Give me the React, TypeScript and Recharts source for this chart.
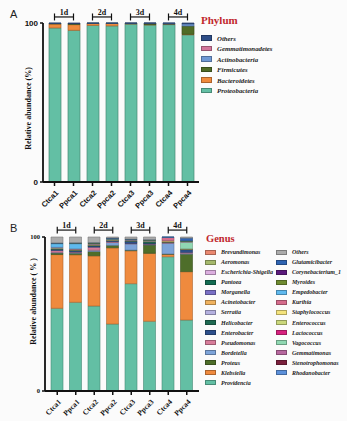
import { Bar, BarChart, ReferenceLine, XAxis, YAxis } from 'recharts'

const SAMPLES = ['Ctca1', 'Ppca1', 'Ctca2', 'Ppca2', 'Ctca3', 'Ppca3', 'Ctca4', 'Ppca4']

const DAY_GROUPS = [
  { label: '1d', from: 'Ctca1', to: 'Ppca1' },
  { label: '2d', from: 'Ctca2', to: 'Ppca2' },
  { label: '3d', from: 'Ctca3', to: 'Ppca3' },
  { label: '4d', from: 'Ctca4', to: 'Ppca4' },
]

// Phylum (%), one value per sample
const PROTEOBACTERIA = [96.9, 95.4, 98.5, 98.2, 99.4, 98.8, 99.0, 92.6]
const BACTEROIDETES = [2.5, 3.6, 1.2, 1.5, 0.2, 0.2, 0.3, 0.3]
const FIRMICUTES = [0.3, 0.6, 0.1, 0.1, 0.2, 0.8, 0.1, 5.2]
const ACTINOBACTERIA = [0.1, 0.1, 0.1, 0.1, 0.1, 0.1, 0.5, 1.4]
const GEMMATIMONADETES = [0, 0, 0, 0, 0, 0, 0, 0]
const PHYLUM_OTHERS = [0.2, 0.3, 0.1, 0.1, 0.1, 0.1, 0.1, 0.5]

// Genus (%), one value per sample
const PROVIDENCIA = [53.7, 57.6, 55.2, 43.5, 69.7, 45.3, 87.2, 46.1]
const KLEBSIELLA = [34.9, 30.9, 32.6, 49.5, 21.4, 44.1, 1.6, 31.4]
const PROTEUS = [1.0, 1.0, 2.8, 1.6, 0.4, 5.4, 0.2, 11.4]
const BORDETELLA = [0.4, 0.4, 0.8, 1.8, 4.0, 0.3, 7.0, 0.5]
const PSEUDOMONAS = [1.2, 0.4, 2.0, 0.6, 0.3, 0.3, 0.3, 0.6]
const ENTEROBACTER = [0.8, 0.8, 0.8, 0.6, 1.4, 0.6, 0.3, 1.8]
const HELICOBACTER = [0.4, 0.4, 0.5, 0.3, 0.3, 1.0, 0.1, 0.3]
const ACINETOBACTER = [0.3, 0.3, 0.3, 0.2, 0.2, 0.2, 0.8, 0.2]
const VAGOCOCCUS = [0.2, 0.2, 0.3, 0.2, 0.2, 0.2, 0.1, 4.4]
const KURTHIA = [0.4, 0.3, 0.3, 0.2, 0.2, 0.2, 2.2, 0.3]
const EMPEDOBACTER = [2.4, 3.4, 0.2, 0.2, 0.2, 0.2, 0.1, 0.2]
const MYROIDES = [0.2, 0.3, 0.3, 0.3, 0.2, 0.3, 0.0, 0.3]
const GLUTAMICIBACTER = [0.3, 0.3, 0.3, 0.4, 0.2, 0.2, 0.1, 1.8]
const GENUS_OTHERS = [3.8, 3.7, 3.6, 0.6, 1.3, 1.7, 0.0, 0.7]

const PHYLUM_LEGEND = ['Others', 'Gemmatimonadetes', 'Actinobacteria', 'Firmicutes', 'Bacteroidetes', 'Proteobacteria']
const GENUS_LEGEND_LEFT = [
  'Brevundimonas', 'Aeromonas', 'Escherichia-Shigella', 'Pantoea', 'Morganella', 'Acinetobacter', 'Serratia',
  'Helicobacter', 'Enterobacter', 'Pseudomonas', 'Bordetella', 'Proteus', 'Klebsiella', 'Providencia',
]
const GENUS_LEGEND_RIGHT = [
  'Others', 'Glutamicibacter', 'Corynebacterium_1', 'Myroides', 'Empedobacter', 'Kurthia', 'Staphylococcus',
  'Enterococcus', 'Lactococcus', 'Vagococcus', 'Gemmatimonas', 'Stenotrophomonas', 'Rhodanobacter',
]

const PHYLUM_COLOR: Record<string, string> = {
  Others: '#2e4d87',
  Gemmatimonadetes: '#d2759a',
  Actinobacteria: '#6f98d4',
  Firmicutes: '#4f6b26',
  Bacteroidetes: '#ef8a3c',
  Proteobacteria: '#63bfa4',
}

const GENUS_COLOR: Record<string, string> = {
  Brevundimonas: '#ea8870',
  Aeromonas: '#a5b96c',
  'Escherichia-Shigella': '#dbaedf',
  Pantoea: '#146c52',
  Morganella: '#7a70c6',
  Acinetobacter: '#f0b25e',
  Serratia: '#b4b0df',
  Helicobacter: '#1f6a52',
  Enterobacter: '#2e508c',
  Pseudomonas: '#d77c9a',
  Bordetella: '#7ea4d9',
  Proteus: '#4e6e2a',
  Klebsiella: '#ef8a3e',
  Providencia: '#63bfa4',
  Others: '#ababab',
  Glutamicibacter: '#2f64b2',
  Corynebacterium_1: '#5b1a7c',
  Myroides: '#6f8b31',
  Empedobacter: '#5fb9ee',
  Kurthia: '#d66c8c',
  Staphylococcus: '#f4e37c',
  Enterococcus: '#cad77b',
  Lactococcus: '#d8217f',
  Vagococcus: '#90d8b2',
  Gemmatimonas: '#b7689f',
  Stenotrophomonas: '#7b203d',
  Rhodanobacter: '#5c90da',
}

// bottom of stack first
const PHYLUM_SERIES: [string, number[]][] = [
  ['Proteobacteria', PROTEOBACTERIA],
  ['Bacteroidetes', BACTEROIDETES],
  ['Firmicutes', FIRMICUTES],
  ['Actinobacteria', ACTINOBACTERIA],
  ['Gemmatimonadetes', GEMMATIMONADETES],
  ['Others', PHYLUM_OTHERS],
]

const GENUS_SERIES: [string, number[]][] = [
  ['Providencia', PROVIDENCIA],
  ['Klebsiella', KLEBSIELLA],
  ['Proteus', PROTEUS],
  ['Bordetella', BORDETELLA],
  ['Pseudomonas', PSEUDOMONAS],
  ['Enterobacter', ENTEROBACTER],
  ['Helicobacter', HELICOBACTER],
  ['Acinetobacter', ACINETOBACTER],
  ['Vagococcus', VAGOCOCCUS],
  ['Kurthia', KURTHIA],
  ['Empedobacter', EMPEDOBACTER],
  ['Myroides', MYROIDES],
  ['Glutamicibacter', GLUTAMICIBACTER],
  ['Others', GENUS_OTHERS],
]

const phylumData = SAMPLES.map((s, i) => {
  const row: Record<string, string | number> = { sample: s }
  for (const [name, vals] of PHYLUM_SERIES) row[name] = vals[i]
  return row
})

const genusData = SAMPLES.map((s, i) => {
  const row: Record<string, string | number> = { sample: s }
  for (const [name, vals] of GENUS_SERIES) row[name] = vals[i]
  return row
})

const SERIF = '"Liberation Serif", "Times New Roman", serif'
const SANS = '"Liberation Sans", Arial, sans-serif'
const TITLE_RED = '#c1272d'

function darken(hex: string, f = 0.72) {
  const n = parseInt(hex.slice(1), 16)
  const r = Math.round(((n >> 16) & 255) * f)
  const g = Math.round(((n >> 8) & 255) * f)
  const b = Math.round((n & 255) * f)
  return `rgb(${r},${g},${b})`
}

function makeTick(font: string, size: number) {
  // eslint-disable-next-line @typescript-eslint/no-explicit-any
  return (props: any) => {
    const { x, y, payload } = props
    return (
      <g transform={`translate(${x + 3},${y + 4})`}>
        <text
          transform="rotate(-45)"
          textAnchor="end"
          fontFamily={font}
          fontWeight="bold"
          fontSize={size}
          fill="#111"
          dy={2}
        >
          {payload.value}
        </text>
      </g>
    )
  }
}

function Brackets(top: number) {
  return DAY_GROUPS.flatMap((g) => [
    <ReferenceLine
      key={g.label + 'h'}
      segment={[{ x: g.from, y: top }, { x: g.to, y: top }]}
      stroke="#111"
      strokeWidth={1.2}
      ifOverflow="visible"
      label={{ value: g.label, position: 'top', offset: 2, fontSize: 8, fontWeight: 'bold', fontFamily: SERIF, fill: '#111' }}
    />,
    <ReferenceLine
      key={g.label + 'a'}
      segment={[{ x: g.from, y: top - 2.2 }, { x: g.from, y: top + 2.2 }]}
      stroke="#111"
      strokeWidth={1.2}
      ifOverflow="visible"
    />,
    <ReferenceLine
      key={g.label + 'b'}
      segment={[{ x: g.to, y: top - 2.2 }, { x: g.to, y: top + 2.2 }]}
      stroke="#111"
      strokeWidth={1.2}
      ifOverflow="visible"
    />,
  ])
}

function LegendItem({ name, color, x, y, size }: { name: string; color: string; x: number; y: number; size: number }) {
  return (
    <div style={{ position: 'absolute', left: x, top: y - 6, height: 12, display: 'flex', alignItems: 'center', whiteSpace: 'nowrap' }}>
      <div style={{ width: 9, height: 3.5, background: color, border: `1px solid ${darken(color)}`, marginRight: 5 }} />
      <span style={{ fontFamily: SERIF, fontStyle: 'italic', fontWeight: 'bold', fontSize: size, color: '#222' }}>{name}</span>
    </div>
  )
}

export default function App() {
  return (
    <div style={{ position: 'absolute', left: 0, top: 0, width: 347, height: 421, background: '#fbfbfb', overflow: 'hidden' }}>
      <div style={{ position: 'absolute', left: 10, top: 8, fontFamily: SANS, fontSize: 11, color: '#222' }}>A</div>
      <div style={{ position: 'absolute', left: 10, top: 222, fontFamily: SANS, fontSize: 11, color: '#222' }}>B</div>

      {/* Phylum */}
      <div style={{ position: 'absolute', left: 0, top: 0 }}>
        <BarChart width={205} height={218} data={phylumData} margin={{ top: 23, right: 6, bottom: 0, left: 23 }} barSize={12}>
          <XAxis
            dataKey="sample"
            height={36}
            interval={0}
            padding={{ left: 2, right: 2 }}
            axisLine={{ stroke: '#111', strokeWidth: 1.8 }}
            tickLine={{ stroke: '#111', strokeWidth: 1.5 }}
            tickSize={4}
            tick={makeTick(SANS, 7.5)}
          />
          <YAxis
            width={20}
            domain={[0, 100]}
            ticks={[0, 100]}
            axisLine={{ stroke: '#111', strokeWidth: 1.8 }}
            tickLine={{ stroke: '#111', strokeWidth: 1.5 }}
            tickSize={3}
            tick={{ fontSize: 8, fontWeight: 'bold', fontFamily: SANS, fill: '#111' }}
          />
          {PHYLUM_SERIES.map(([name]) => (
            <Bar
              key={name}
              dataKey={name}
              stackId="p"
              fill={PHYLUM_COLOR[name]}
              stroke={darken(PHYLUM_COLOR[name])}
              strokeWidth={0.7}
              isAnimationActive={false}
            />
          ))}
          {Brackets(103.8)}
        </BarChart>
      </div>
      <div
        style={{
          position: 'absolute', left: -32, top: 104, width: 120, textAlign: 'center', transform: 'rotate(-90deg)',
          fontFamily: SERIF, fontWeight: 'bold', fontSize: 8, color: '#111', whiteSpace: 'nowrap',
        }}
      >
        Relative abundance (%)
      </div>
      <div style={{ position: 'absolute', left: 201, top: 14, fontFamily: SERIF, fontWeight: 'bold', fontSize: 11, color: TITLE_RED }}>
        Phylum
      </div>
      {PHYLUM_LEGEND.map((name, i) => (
        <LegendItem key={name} name={name} color={PHYLUM_COLOR[name]} x={201} y={38 + i * 10.5} size={6.8} />
      ))}

      {/* Genus */}
      <div style={{ position: 'absolute', left: 0, top: 200 }}>
        <BarChart width={205} height={221} data={genusData} margin={{ top: 37, right: 6, bottom: 0, left: 25 }} barSize={12}>
          <XAxis
            dataKey="sample"
            height={30}
            interval={0}
            padding={{ left: 3, right: 3 }}
            axisLine={{ stroke: '#111', strokeWidth: 1.8 }}
            tickLine={{ stroke: '#111', strokeWidth: 1.5 }}
            tickSize={4}
            tick={makeTick(SERIF, 7.5)}
          />
          <YAxis
            width={20}
            domain={[0, 100]}
            ticks={[0, 100]}
            axisLine={{ stroke: '#111', strokeWidth: 1.8 }}
            tickLine={{ stroke: '#111', strokeWidth: 1.5 }}
            tickSize={3}
            tick={{ fontSize: 6.5, fontWeight: 'bold', fontFamily: SERIF, fill: '#111' }}
          />
          {GENUS_SERIES.map(([name]) => (
            <Bar
              key={name}
              dataKey={name}
              stackId="g"
              fill={GENUS_COLOR[name]}
              stroke={darken(GENUS_COLOR[name])}
              strokeWidth={0.6}
              isAnimationActive={false}
            />
          ))}
          {Brackets(104.5)}
        </BarChart>
      </div>
      <div
        style={{
          position: 'absolute', left: -27, top: 297, width: 120, textAlign: 'center', transform: 'rotate(-90deg)',
          fontFamily: SERIF, fontWeight: 'bold', fontSize: 8, color: '#111', whiteSpace: 'nowrap',
        }}
      >
        Relative abundance ( % )
      </div>
      <div style={{ position: 'absolute', left: 206, top: 233, fontFamily: SERIF, fontWeight: 'bold', fontSize: 10.5, color: TITLE_RED }}>
        Genus
      </div>
      {GENUS_LEGEND_LEFT.map((name, i) => (
        <LegendItem key={name} name={name} color={GENUS_COLOR[name]} x={205} y={252.3 + i * 10.03} size={6} />
      ))}
      {GENUS_LEGEND_RIGHT.map((name, i) => (
        <LegendItem key={name} name={name} color={GENUS_COLOR[name]} x={276} y={252.3 + i * 10.03} size={6} />
      ))}
    </div>
  )
}
